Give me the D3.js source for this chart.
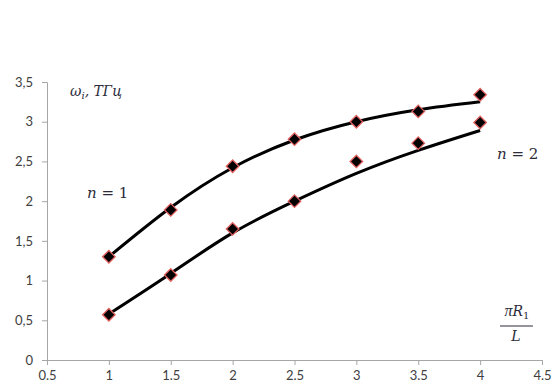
<!DOCTYPE html>
<html>
<head>
<meta charset="utf-8">
<script src="https://cdn.jsdelivr.net/npm/d3@7"></script>
<style>
  body { margin: 0; background: #fff; }
  .tick text { font-family: Lato, "Open Sans", sans-serif; font-size: 13px; fill: #404040; }
  .math { font-family: "DejaVu Serif", "Liberation Serif", serif; font-style: italic; fill: #2b2b3a; }
</style>
</head>
<body>
<div id="chart"></div>
<script>
// data
const xValues = [1, 1.5, 2, 2.5, 3, 3.5, 4];
const n1Values = [1.30, 1.89, 2.44, 2.78, 3.0, 3.13, 3.34];
const n2Values = [0.57, 1.07, 1.65, 2.0, 2.5, 2.73, 2.99];
const n1Curve = [1.30, 1.92, 2.42, 2.77, 3.0, 3.15, 3.25];
const n2Curve = [0.58, 1.09, 1.60, 2.0, 2.35, 2.64, 2.89];
const xTicks = [0.5, 1, 1.5, 2, 2.5, 3, 3.5, 4, 4.5];
const yTicks = [0, 0.5, 1, 1.5, 2, 2.5, 3, 3.5];

const W = 553, H = 387;
const margin = { top: 82, right: 11, bottom: 27, left: 47 };
const width = W - margin.left - margin.right;
const height = H - margin.top - margin.bottom;

const svg = d3.select("#chart").append("svg")
  .attr("width", W).attr("height", H)
  .append("g")
  .attr("transform", `translate(${margin.left},${margin.top})`);

const x = d3.scaleLinear().domain([0.5, 4.5]).range([0, width]);
const y = d3.scaleLinear().domain([0, 3.5]).range([height, 0]);

// axes
const xAxis = svg.append("g")
  .attr("transform", `translate(0,${height})`)
  .call(d3.axisBottom(x).tickValues(xTicks).tickSize(5).tickPadding(6).tickFormat(d => d));
const yAxis = svg.append("g")
  .call(d3.axisLeft(y).tickValues(yTicks).tickSize(5).tickPadding(9)
    .tickFormat(d => String(d).replace(".", ",")));
[xAxis, yAxis].forEach(a => {
  a.select(".domain").attr("stroke", "#a6a6a6");
  a.selectAll(".tick line").attr("stroke", "#a6a6a6");
});

const line = d3.line().x(d => x(d[0])).y(d => y(d[1])).curve(d3.curveNatural);

[n1Curve, n2Curve].forEach(vals => {
  svg.append("path")
    .datum(xValues.map((xv, i) => [xv, vals[i]]))
    .attr("fill", "none")
    .attr("stroke", "#000")
    .attr("stroke-width", 3)
    .attr("d", line);
});

// markers
const diamond = d3.symbol().type(d3.symbolDiamond2).size(100);
[n1Values, n2Values].forEach(vals => {
  svg.selectAll(null)
    .data(xValues.map((xv, i) => [xv, vals[i]]))
    .enter()
    .append("path")
    .attr("d", diamond)
    .attr("transform", d => `translate(${x(d[0])},${y(d[1])})`)
    .attr("fill", "#000")
    .attr("stroke", "#e06060")
    .attr("stroke-width", 1.3);
});

// labels
const lab = d3.select("svg");
const om = lab.append("text").attr("class", "math").attr("x", 70).attr("y", 96).style("font-size", "14px");
om.append("tspan").text("ω");
om.append("tspan").attr("dy", 3).style("font-size", "10px").text("i");
om.append("tspan").attr("dy", -3).text(", TГц");

lab.append("text").attr("class", "math").attr("x", 87).attr("y", 198).style("font-size", "15px")
  .html('n <tspan font-style="normal">= 1</tspan>');
lab.append("text").attr("class", "math").attr("x", 497).attr("y", 159).style("font-size", "15px")
  .html('n <tspan font-style="normal">= 2</tspan>');

const fr = lab.append("text").attr("class", "math").attr("x", 517).attr("y", 316)
  .attr("text-anchor", "middle").style("font-size", "14px");
fr.append("tspan").style("font-family", "'Liberation Serif', serif").style("font-size", "16px").text("π");
fr.append("tspan").text("R");
fr.append("tspan").attr("dy", 3).attr("font-style", "normal").style("font-size", "10px").text("1");
lab.append("line").attr("x1", 500).attr("x2", 533).attr("y1", 326).attr("y2", 326)
  .attr("stroke", "#2b2b3a").attr("stroke-width", 1);
lab.append("text").attr("class", "math").attr("x", 516).attr("y", 341)
  .attr("text-anchor", "middle").style("font-size", "14px").text("L");
</script>
</body>
</html>
